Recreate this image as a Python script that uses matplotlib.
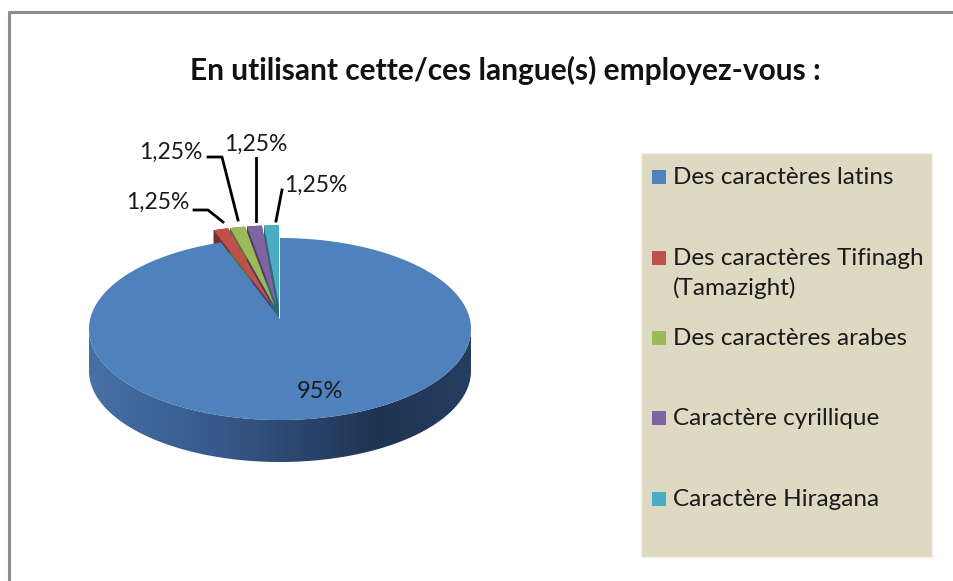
import numpy as np
import matplotlib.pyplot as plt
from matplotlib.patches import Polygon, Rectangle
from matplotlib.colors import to_rgb, LinearSegmentedColormap

# --- Data ---
categories = [
    "Des caractères latins",
    "Des caractères Tifinagh\n(Tamazight)",
    "Des caractères arabes",
    "Caractère cyrillique",
    "Caractère Hiragana",
]
values = [95, 1.25, 1.25, 1.25, 1.25]
value_labels = ["95%", "1,25%", "1,25%", "1,25%", "1,25%"]
colors = ["#4f81bd", "#c0504d", "#9bbb59", "#8064a2", "#4bacc6"]
title = "En utilisant cette/ces langue(s) employez-vous :"

FONT = ["Lato", "DejaVu Sans"]

# --- Canvas in pixel coordinates ---
W, H = 954, 581
fig = plt.figure(figsize=(W / 100, H / 100), dpi=100)
ax = fig.add_axes([0, 0, 1, 1])
ax.set_xlim(0, W)
ax.set_ylim(H, 0)
ax.axis("off")

# outer chart border (only top and left visible)
ax.plot([9, 9, W], [H, 12, 12], color="#8c8c8c", lw=2.2, solid_capstyle="butt", zorder=1)

ax.text(505, 70, title, fontsize=21.5, fontweight="bold", family=FONT,
        ha="center", va="center", color="#111111")

# --- 3D pie geometry ---
cx, cy = 280, 329
rx, ry = 191, 91
apex_dy = -10   # slight perspective: apex sits above the ellipse centre
depth = 42


def pt(theta, r=1.0, off=(0, 0)):
    # theta in degrees, clockwise from 12 o'clock
    t = np.radians(theta)
    return (cx + off[0] + r * rx * np.sin(t), cy + off[1] - r * ry * np.cos(t))


def apex(off=(0, 0)):
    return (cx + off[0], cy + apex_dy + off[1])


def darker(c, f):
    r, g, b = to_rgb(c)
    return (r * f, g * f, b * f)


fracs = np.array(values) / sum(values)
bounds = np.concatenate([[0], np.cumsum(fracs) * 360])

# small slices first (they sit at the back), exploded outward
explode = 0.14
for i in range(1, len(values)):
    a0, a1 = bounds[i], bounds[i + 1]
    mid = (a0 + a1) / 2
    t = np.radians(mid)
    off = (explode * rx * np.sin(t), -explode * ry * np.cos(t))
    arc = np.linspace(a0, a1, 10)
    top = np.array([apex(off)] + [pt(a, 1, off) for a in arc])
    bottom = top + [0, depth]
    ax.add_patch(Polygon(bottom, closed=True, fc=darker(colors[i], 0.55), ec="none", zorder=2))
    n = len(top)
    for k in range(n):
        p, q = top[k], top[(k + 1) % n]
        quad = [p, q, q + [0, depth], p + [0, depth]]
        ax.add_patch(Polygon(quad, closed=True, fc=darker(colors[i], 0.6), ec="none", zorder=2))
    ax.add_patch(Polygon(top, closed=True, fc=colors[i], ec="none", zorder=3))

# big slice: side wall (front half) filled with a horizontal gradient
front = np.linspace(270, 90, 200)
rim_top = np.array([pt(a) for a in front])
side = np.vstack([rim_top, rim_top[::-1] + [0, depth]])
side_patch = Polygon(side, closed=True, fc="none", ec="none", zorder=4)
ax.add_patch(side_patch)
side_cmap = LinearSegmentedColormap.from_list(
    "side", [(0, "#4671a7"), (0.35, "#36588a"), (0.75, "#1f3453"), (1, "#253d60")])
grad = np.linspace(0, 1, 256).reshape(1, -1)
img = ax.imshow(grad, cmap=side_cmap, aspect="auto", zorder=4,
                extent=(cx - rx, cx + rx, cy + ry + depth + 2, cy - 2))
img.set_clip_path(side_patch)

arc = np.linspace(bounds[0], bounds[1], 300)
top = np.array([apex()] + [pt(a) for a in arc])
ax.add_patch(Polygon(top, closed=True, fc=colors[0], ec="none", zorder=5))

ax.set_xlim(0, W)
ax.set_ylim(H, 0)

# --- Labels ---
ax.text(320, 391, value_labels[0], fontsize=17, family=FONT, ha="center", va="center",
        color="#1a1a1a", zorder=6)

small_label_pos = [(158, 202), (171, 152), (256, 144), (316, 185)]
leaders = [
    [(194, 210), (208, 210), (223, 222)],
    [(208, 157), (222, 157), (238, 220)],
    [(256, 158), (256, 221)],
    [(282, 190), (276, 221)],
]
for i, (xy, line) in enumerate(zip(small_label_pos, leaders), start=1):
    ax.text(xy[0], xy[1], value_labels[i], fontsize=16.5, family=FONT,
            ha="center", va="center", color="#1a1a1a", zorder=6)
    lx, ly = zip(*line)
    ax.plot(lx, ly, color="black", lw=2, zorder=6)

# --- Legend box ---
ax.add_patch(Rectangle((641, 153), 291, 404, fc="#ddd9c3", ec="#f2f0e6", lw=1, zorder=1))
legend_y = [177, 258, 338, 418, 499]
for cat, col, y in zip(categories, colors, legend_y):
    ax.add_patch(Rectangle((652, y - 7), 14, 14, fc=col, ec="none", zorder=2))
    ax.text(673, y - 10, cat, fontsize=17.5, family=FONT, ha="left", va="top",
            color="#1a1a1a", linespacing=1.42, zorder=2)

fig.savefig("out.png", dpi=100)
